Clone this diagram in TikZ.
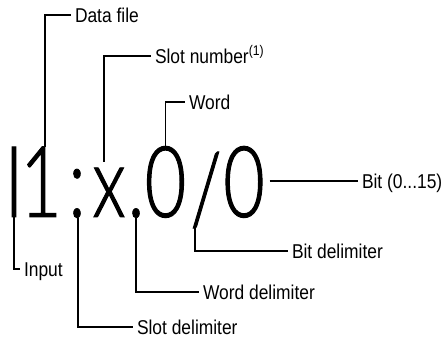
\documentclass[tikz,border=0pt]{standalone}
\usepackage{fontspec}
\setmainfont[FakeStretch=0.87]{Liberation Sans}
\newfontfamily\bigfont[FakeStretch=0.72, FakeBold=1]{Lato Light}

\begin{document}
\begin{tikzpicture}[x=1pt, y=1pt,
    lead/.style={line width=1.5pt},
    glyph/.style={anchor=base, inner sep=0pt, outer sep=0pt,
        font=\bigfont\fontsize{99}{99}\selectfont},
    lbl/.style={anchor=west, inner sep=0pt, inner xsep=4pt, outer sep=0pt,
        text height=14.3pt, text depth=0pt,
        font=\fontsize{20}{20}\selectfont}]

    % Fix the size of the page
    \useasboundingbox (0,0) rectangle (446,337);

    % The address, one glyph at a time
    \node[glyph] (file) at (14,120) {I};
    \node[glyph] (num) at (41,120) {1};
    \node[glyph] (colon) at (77,120) {:};
    \node[glyph] (slot) at (109,120) {x};
    \node[glyph] (dot) at (136,120) {.};
    \node[glyph] (word) at (165.5,120) {0};
    \node[glyph] (slash) at (206,113) {/};
    \node[glyph] (bit) at (244,120) {0};

    % Labels above the address
    \node[lbl] (dfile) at (71,322) {Data file};
    \node[lbl] (snum) at (151,281) {Slot number\textsuperscript{(1)}};
    \node[lbl] (wrd) at (185,235) {Word};

    % Labels below and right of the address
    \node[lbl] (inp) at (20,68) {Input};
    \node[lbl] (sdelim) at (133,10) {Slot delimiter};
    \node[lbl] (wdelim) at (199,45) {Word delimiter};
    \node[lbl] (bdelim) at (288,86) {Bit delimiter};
    \node[lbl] (bits) at (358,156) {Bit (0...15)};

    % Leader lines going up
    \draw[lead] ([xshift=4pt]num.north) |- (dfile.west);
    \draw[lead] ([xshift=-5pt,yshift=6pt]slot.north) |- (snum.west);
    \draw[lead] (word.north) |- (wrd.west);

    % Leader lines going down
    \draw[lead] (file.south) |- (inp.west);
    \draw[lead] ([xshift=1pt]colon.south) |- (sdelim.west);
    \draw[lead] (dot.south) |- (wdelim.west);
    \draw[lead] ([xshift=-11pt]slash.south) |- (bdelim.west);

    % Leader line to the right
    \draw[lead] ([xshift=5pt]bit.east |- bits.west) -- (bits.west);

\end{tikzpicture}
\end{document}
